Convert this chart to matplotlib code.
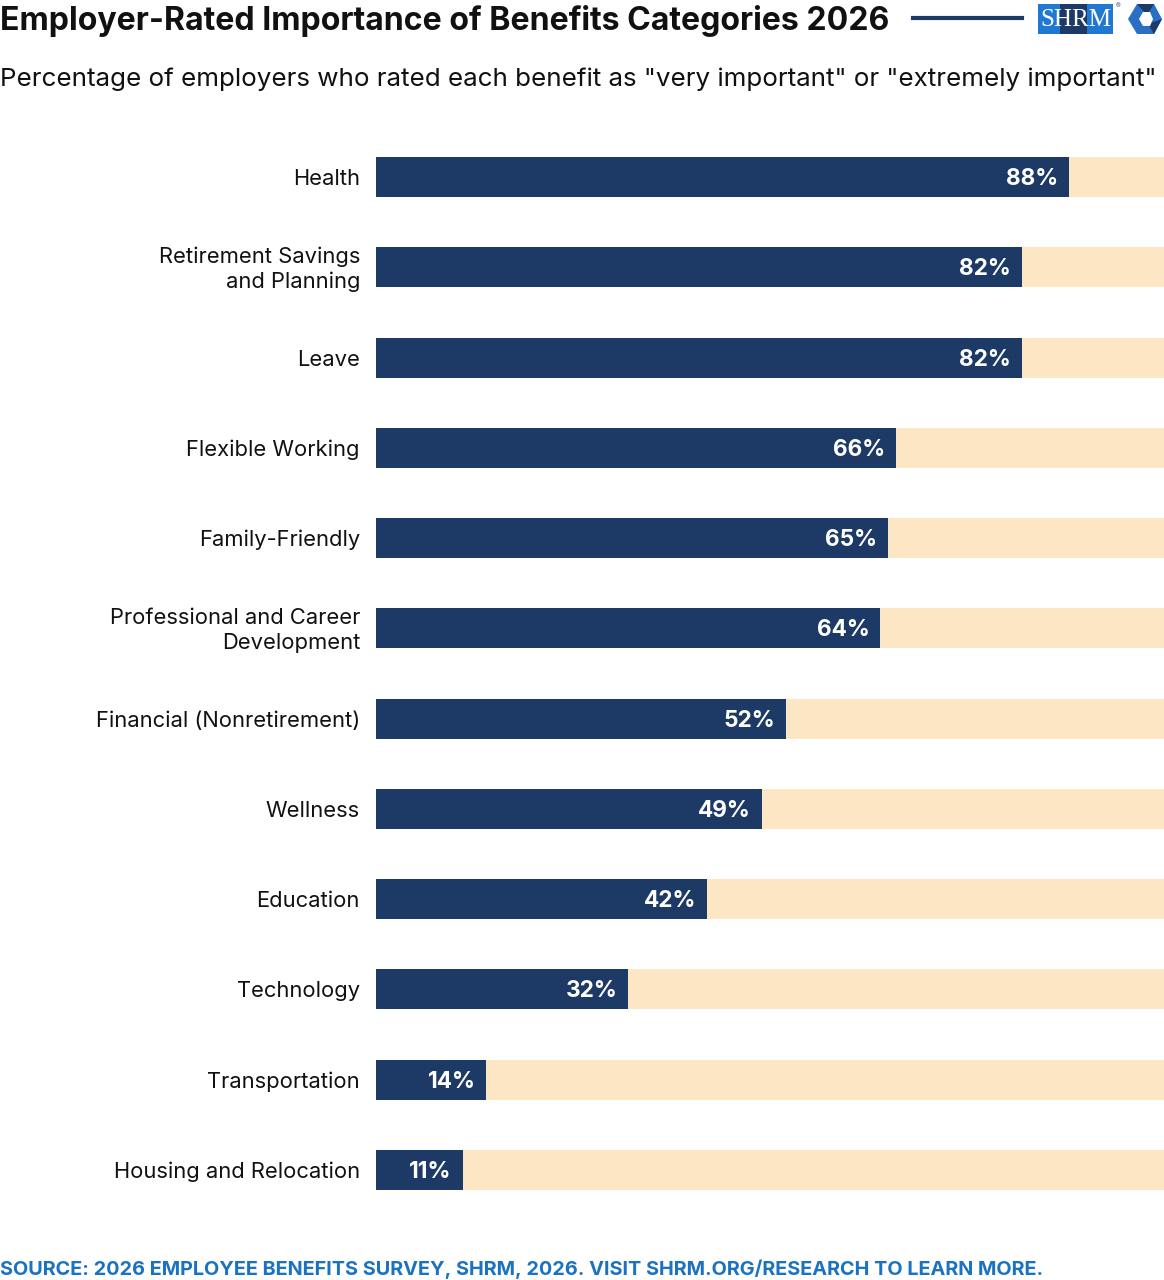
import matplotlib
matplotlib.use("Agg")
import matplotlib.pyplot as plt
from matplotlib.patches import Rectangle, Polygon

plt.rcParams['font.family'] = ['Inter', 'DejaVu Sans']

categories = ["Health", "Retirement Savings\nand Planning", "Leave", "Flexible Working",
              "Family-Friendly", "Professional and Career\nDevelopment",
              "Financial (Nonretirement)", "Wellness", "Education", "Technology",
              "Transportation", "Housing and Relocation"]
values = [88, 82, 82, 66, 65, 64, 52, 49, 42, 32, 14, 11]
value_labels = ["88%", "82%", "82%", "66%", "65%", "64%", "52%", "49%", "42%", "32%", "14%", "11%"]

NAVY = "#1d3a66"
PEACH = "#fde6c4"
W, H = 1164, 1280
fig = plt.figure(figsize=(W / 100, H / 100), dpi=100)

# axes: x 376..1164 px, y 132..1215 px
ax = fig.add_axes([376 / W, 1 - 1215 / H, (1164 - 376) / W, (1215 - 132) / H])
ypos = list(range(len(categories)))
ax.barh(ypos, [100] * len(values), height=0.443, color=PEACH, edgecolor="none")
ax.barh(ypos, values, height=0.443, color=NAVY, edgecolor="none")
ax.set_xlim(0, 100)
ax.set_ylim(len(categories) - 0.5, -0.5)
ax.axis("off")

for y, v, lab, cat in zip(ypos, values, value_labels, categories):
    ax.annotate(lab, xy=(v, y), xytext=(-11, -2), textcoords="offset pixels",
                ha="right", va="center", color="white", fontsize=16.3, fontweight="bold")
    ax.annotate(cat, xy=(0, y), xytext=(-16, -2), textcoords="offset pixels",
                ha="right", va="center", color="#111111", fontsize=15.8,
                multialignment="right", linespacing=1.27)

# Title & subtitle
fig.text(0 / W, 1 - 21 / H, "Employer-Rated Importance of Benefits Categories 2026",
         ha="left", va="center", fontsize=23.1, fontweight="bold", color="#111111")
fig.text(0 / W, 1 - 79 / H,
         'Percentage of employers who rated each benefit as "very important" or "extremely important"',
         ha="left", va="center", fontsize=18.7, color="#111111")

# Source
fig.text(0 / W, 1 - 1269 / H,
         "SOURCE: 2026 EMPLOYEE BENEFITS SURVEY, SHRM, 2026. VISIT SHRM.ORG/RESEARCH TO LEARN MORE.",
         ha="left", va="center", fontsize=14.3, fontweight="bold", color="#1a72c1")

# Logo elements (figure pixel coords)
def fx(x): return x / W
def fy(y): return 1 - y / H

fig.add_artist(plt.Line2D([fx(913), fx(1022)], [fy(18), fy(18)], color=NAVY, lw=3))
fig.add_artist(Rectangle((fx(1038), fy(34)), fx(1113) - fx(1038), fy(4) - fy(34),
                         transform=fig.transFigure, color="#1f78d1", lw=0))
fig.add_artist(Rectangle((fx(1060), fy(34)), fx(1087) - fx(1060), fy(4) - fy(34),
                         transform=fig.transFigure, color="#1d3a66", lw=0))
fig.text(fx(1075.5), fy(20), "SHRM", ha="center", va="center", fontsize=18,
         family="Liberation Serif", color="white")
fig.text(fx(1116), fy(6), "®", ha="left", va="center", fontsize=5, color="#555555")

cx, cy = 1145, 19
hexpts = [(cx - 17, cy), (cx - 8, cy - 15), (cx + 9, cy - 15), (cx + 17, cy),
          (cx + 9, cy + 15), (cx - 8, cy + 15)]
fig.add_artist(Polygon([(fx(x), fy(y)) for x, y in hexpts], closed=True,
                       transform=fig.transFigure, color="#2a6fc4", lw=0))
tri = [(cx - 8, cy - 15), (cx + 9, cy - 15), (cx + 2, cy - 4)]
fig.add_artist(Polygon([(fx(x), fy(y)) for x, y in tri], closed=True,
                       transform=fig.transFigure, color="#1d3a66", lw=0))
tri2 = [(cx + 17, cy), (cx + 9, cy + 15), (cx + 3, cy + 5)]
fig.add_artist(Polygon([(fx(x), fy(y)) for x, y in tri2], closed=True,
                       transform=fig.transFigure, color="#1d3a66", lw=0))
inner = [(cx - 6, cy), (cx - 2, cy - 7), (cx + 5, cy - 7), (cx + 8, cy),
         (cx + 5, cy + 7), (cx - 2, cy + 7)]
fig.add_artist(Polygon([(fx(x), fy(y)) for x, y in inner], closed=True,
                       transform=fig.transFigure, color="white", lw=0))

fig.savefig("out.png", dpi=100)
